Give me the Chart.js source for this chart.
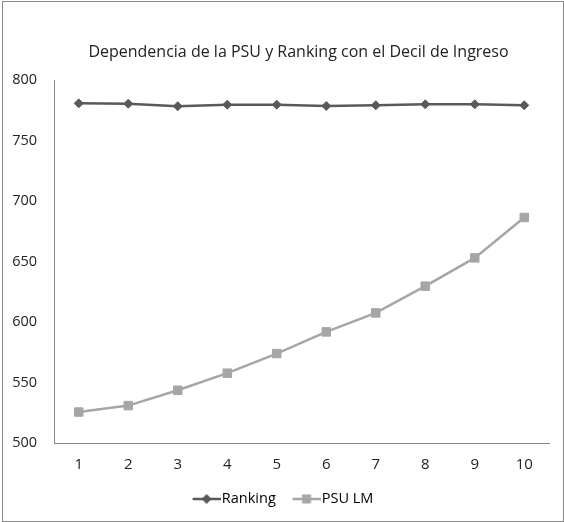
<!DOCTYPE html>
<html>
<head>
<meta charset="utf-8">
<script src="https://cdn.jsdelivr.net/npm/chart.js@4"></script>
<style>
  body { margin: 0; background: #fff; }
  #marco { position: absolute; left: 2px; top: 1px; width: 560px; height: 519px; border: 1px solid #898989; pointer-events: none; }
  canvas { position: absolute; left: 0; top: 0; }
</style>
</head>
<body>
<canvas id="grafico-decil" width="564" height="522"></canvas>
<div id="marco"></div>
<script>
// Datos
const deciles = ['1', '2', '3', '4', '5', '6', '7', '8', '9', '10'];
const ranking = [780.7, 780.4, 778.3, 779.6, 779.6, 778.5, 779.1, 779.9, 779.9, 779.1];
const psuLM = [525.6, 530.9, 543.6, 557.7, 573.9, 591.8, 607.5, 629.6, 653.0, 686.4];
const ticksY = [500, 550, 600, 650, 700, 750, 800];

const colorRanking = '#595959';
const colorPSU = '#a6a6a6';
const fuente = "'Open Sans', sans-serif";

// Icono de leyenda: línea con marcador (la línea va en la parte derecha de la imagen)
function iconoLeyenda(color, forma) {
    const c = document.createElement('canvas');
    c.width = 46;
    c.height = 12;
    const g = c.getContext('2d');
    g.strokeStyle = color;
    g.lineWidth = 2.5;
    g.beginPath();
    g.moveTo(18, 6);
    g.lineTo(46, 6);
    g.stroke();
    g.fillStyle = color;
    g.beginPath();
    if (forma === 'rombo') {
        g.moveTo(32, 1); g.lineTo(37, 6); g.lineTo(32, 11); g.lineTo(27, 6);
    } else {
        g.rect(27.5, 1.5, 9, 9);
    }
    g.closePath();
    g.fill();
    return c;
}
const iconos = [iconoLeyenda(colorRanking, 'rombo'), iconoLeyenda(colorPSU, 'cuadrado')];

const ctx = document.getElementById('grafico-decil').getContext('2d');
const grafico = new Chart(ctx, {
    type: 'line',
    data: {
        labels: deciles,
        datasets: [{
            label: 'Ranking',
            data: ranking,
            borderColor: colorRanking,
            backgroundColor: colorRanking,
            borderWidth: 2.5,
            pointStyle: 'rectRot',
            pointRadius: 4.5,
            pointBorderWidth: 1,
            fill: false,
            tension: 0
        }, {
            label: 'PSU LM',
            data: psuLM,
            borderColor: colorPSU,
            backgroundColor: colorPSU,
            borderWidth: 2.5,
            pointStyle: 'rect',
            pointRadius: 6,
            pointBorderWidth: 1,
            fill: false,
            tension: 0
        }]
    },
    options: {
        responsive: false,
        animation: false,
        layout: {
            padding: { left: 0, right: 15, top: 0, bottom: 5.75 }
        },
        scales: {
            x: {
                offset: true,
                grid: { display: false, drawTicks: false },
                border: { display: true, color: '#868686', width: 1 },
                ticks: { color: '#222', font: { family: fuente, size: 15 }, padding: 13, maxRotation: 0 }
            },
            y: {
                min: 500,
                max: 800,
                afterBuildTicks: (escala) => { escala.ticks = ticksY.map(v => ({ value: v })); },
                afterFit: (escala) => { escala.width = 54; },
                grid: { display: false, drawTicks: false },
                border: { display: true, color: '#868686', width: 1 },
                ticks: { color: '#222', font: { family: fuente, size: 14.5 }, padding: 17 }
            }
        },
        plugins: {
            title: {
                display: true,
                text: 'Dependencia de la PSU y Ranking con el Decil de Ingreso',
                color: '#222',
                font: { family: fuente, size: 16, weight: 'normal' },
                padding: { top: 42.4, bottom: 18.4 }
            },
            legend: {
                position: 'bottom',
                labels: {
                    color: '#222',
                    font: { family: fuente, size: 14.5 },
                    usePointStyle: true,
                    pointStyleWidth: 34,
                    padding: 4.75,
                    generateLabels: (chart) => chart.data.datasets.map((ds, i) => ({
                        text: ds.label,
                        fillStyle: ds.borderColor,
                        strokeStyle: ds.borderColor,
                        pointStyle: iconos[i],
                        datasetIndex: i,
                        hidden: false
                    }))
                }
            },
            tooltip: { enabled: false }
        }
    },
    plugins: [{
        id: 'moverBloques',
        afterLayout(chart) {
            chart.titleBlock.left += 24;
            chart.titleBlock.right += 24;
            chart.legend.left += 2.5;
            chart.legend.right += 2.5;
        }
    }]
});
</script>
</body>
</html>
